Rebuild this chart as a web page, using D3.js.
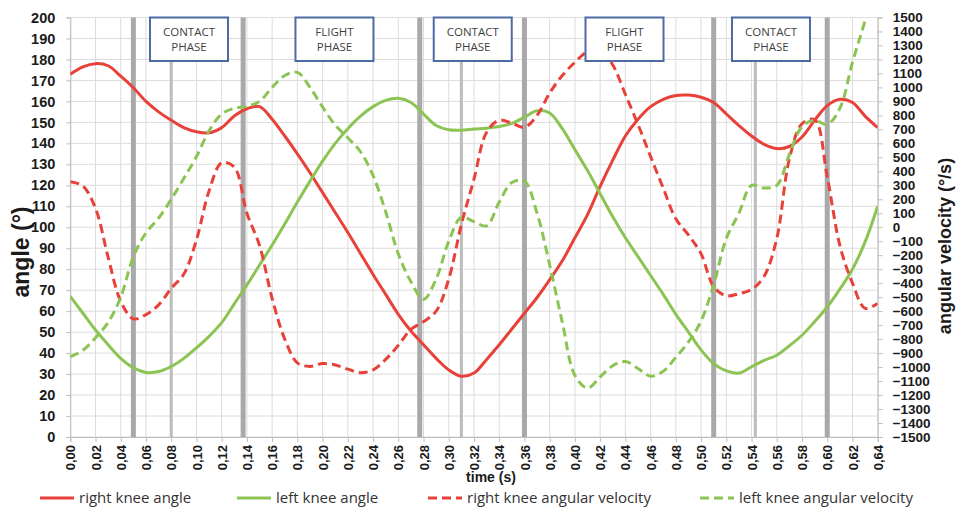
<!DOCTYPE html>
<html><head><meta charset="utf-8">
<script src="https://cdn.jsdelivr.net/npm/d3@7"></script>
<style>body{margin:0;background:#fff} svg{display:block}</style>
</head><body><svg id="c" width="957" height="508"></svg>
<script>
// ---- data ----
const times = [0.00,0.01,0.02,0.03,0.04,0.05,0.06,0.07,0.08,0.09,
0.10,0.11,0.12,0.13,0.14,0.15,0.16,0.17,0.18,0.19,
0.20,0.21,0.22,0.23,0.24,0.25,0.26,0.27,0.28,0.29,
0.30,0.31,0.32,0.33,0.34,0.35,0.36,0.37,0.38,0.39,
0.40,0.41,0.42,0.43,0.44,0.45,0.46,0.47,0.48,0.49,
0.50,0.51,0.52,0.53,0.54,0.55,0.56,0.57,0.58,0.59,
0.60,0.61,0.62,0.63,0.64];
const rightKneeAngle = [173,176.5,178,177,172,166.5,160,155,151,147.5,
145.5,145,147.5,153,156.5,157.5,151.5,143.5,135,126,
116.5,107,97.5,87.5,77.5,68,58.5,50.5,44,37.5,
32,29,30.5,37,44,51.5,59,66.5,75,84,
95,106,119.5,132,143.5,151.5,157.5,161,162.8,163,
162,159.5,154,148.5,143.5,139.5,137.5,138.5,143,151,
158,161,159.5,153,147.5];
const leftKneeAngle = [67,59,51,44,37.5,33,30.8,31.2,33.6,37.5,
42.5,48,54.5,63.5,72.5,82,91.5,101.5,112,122,
131.5,140,147,153,157.5,160.5,161.5,159.5,154,148.5,
146.5,146.3,146.8,147.2,148,149.5,152.5,155.5,154.5,147,
137,127,116,105,95,86,77,68,58.5,50,
41.5,35,31.5,30.5,33.5,36.5,39,43.5,48.5,55,
62,70.5,80,93,110];
const rightKneeVel = [326,295,135,-215,-530,-655,-625,-555,-437,-335,
-90,260,460,430,100,-130,-510,-800,-970,-995,
-975,-985,-1015,-1040,-1020,-945,-845,-730,-675,-600,
-370,20,345,680,765,745,715,800,960,1085,
1180,1256,1270,1160,950,735,505,280,60,-55,
-190,-425,-490,-475,-445,-350,-80,490,740,770,
361,-130,-400,-580,-545];
const leftKneeVel = [-926,-880,-790,-680,-500,-210,-40,65,200,350,
505,690,810,850,865,900,1000,1085,1108,1000,
860,730,640,540,370,110,-190,-390,-515,-370,
-100,70,40,10,180,320,330,100,-270,-680,
-1060,-1150,-1070,-990,-960,-1010,-1065,-1030,-930,-820,
-670,-410,-80,100,300,280,300,520,720,765,
735,850,1180,1480,1850];
const timeTicks = [0.00,0.02,0.04,0.06,0.08,0.10,0.12,0.14,0.16,0.18,0.20,0.22,0.24,0.26,0.28,0.30,0.32,0.34,0.36,0.38,0.40,0.42,0.44,0.46,0.48,0.50,0.52,0.54,0.56,0.58,0.60,0.62,0.64];
const angleTicks = [0,10,20,30,40,50,60,70,80,90,100,110,120,130,140,150,160,170,180,190,200];
const velTicks = [-1500,-1400,-1300,-1200,-1100,-1000,-900,-800,-700,-600,-500,-400,-300,-200,-100,0,100,200,300,400,500,600,700,800,900,1000,1100,1200,1300,1400,1500];
const phaseLinesMajor = [0.05,0.137,0.277,0.36,0.51,0.60];
const phaseLinesMinor = [0.08,0.31,0.543];
const phaseLabels = ["CONTACT|PHASE","FLIGHT|PHASE","CONTACT|PHASE","FLIGHT|PHASE","CONTACT|PHASE"];
const phaseCenters = [0.0941,0.2094,0.319,0.4393,0.5554];
const seriesNames = ["right knee angle","left knee angle","right knee angular velocity","left knee angular velocity"];

// ---- chart ----
const RED = "#e8413a", GREEN = "#8cc453";
const svg = d3.select("#c");
const L = 70.3, R = 877.7, T = 17.5, B = 437;
const x = d3.scaleLinear().domain([0,0.64]).range([L,R]);
const yL = d3.scaleLinear().domain([0,200]).range([B,T]);
const yR = d3.scaleLinear().domain([-1500,1500]).range([B,T]);
const NUM = "'Liberation Sans', Arial, sans-serif";
const TXT = "'Open Sans', 'Noto Sans', sans-serif";

svg.append("defs").append("clipPath").attr("id","clip")
  .append("rect").attr("x",L).attr("y",T).attr("width",R-L).attr("height",B-T);

// grid
const g = svg.append("g");
g.selectAll(".vg").data(timeTicks).join("line")
  .attr("x1",d=>x(d)).attr("x2",d=>x(d)).attr("y1",T).attr("y2",B)
  .attr("stroke","#dcdcdc").attr("stroke-width",1);
g.selectAll(".hg").data(angleTicks).join("line")
  .attr("x1",L).attr("x2",R).attr("y1",d=>yL(d)).attr("y2",d=>yL(d))
  .attr("stroke","#dcdcdc").attr("stroke-width",1);

// phase lines
svg.append("g").selectAll("line").data(phaseLinesMajor).join("line")
  .attr("x1",d=>x(d)).attr("x2",d=>x(d)).attr("y1",T).attr("y2",B)
  .attr("stroke","#a9a9a9").attr("stroke-width",5);
svg.append("g").selectAll("line").data(phaseLinesMinor).join("line")
  .attr("x1",d=>x(d)).attr("x2",d=>x(d)).attr("y1",T).attr("y2",B)
  .attr("stroke","#bcbcbc").attr("stroke-width",3);

// axes
const commaFmt = d3.formatLocale({decimal:",",thousands:".",grouping:[3],currency:["",""]}).format(".2f");
const axL = svg.append("g").attr("transform",`translate(${L},0)`)
  .call(d3.axisLeft(yL).tickValues(angleTicks).tickSize(4).tickPadding(11));
const axR = svg.append("g").attr("transform",`translate(${R},0)`)
  .call(d3.axisRight(yR).tickValues(velTicks).tickSize(5).tickPadding(10).tickFormat(d3.format("d")));
const axB = svg.append("g").attr("transform",`translate(0,${B})`)
  .call(d3.axisBottom(x).tickValues(timeTicks).tickSize(5).tickPadding(3).tickFormat(commaFmt));
[axL,axR,axB].forEach(a=>{
  a.select(".domain").attr("stroke","#bdbdbd");
  a.selectAll(".tick line").attr("stroke","#bdbdbd");
  a.selectAll("text").attr("fill","#1a1a1a").attr("font-family",NUM).attr("font-weight","bold");
});
axL.selectAll("text").attr("font-size","14.5px");
axR.selectAll("text").attr("font-size","13.5px");
axB.selectAll("text").attr("font-size","13px")
  .attr("text-anchor","end").attr("dy","0.35em")
  .attr("transform","rotate(-90)").attr("x",-8).attr("y",0);

// series
const lineL = d3.line().x((d,i)=>x(times[i])).y(d=>yL(d)).curve(d3.curveCatmullRom.alpha(0.5));
const lineR = d3.line().x((d,i)=>x(times[i])).y(d=>yR(d)).curve(d3.curveCatmullRom.alpha(0.5));
const sg = svg.append("g").attr("clip-path","url(#clip)");
sg.append("path").attr("d",lineL(rightKneeAngle)).attr("fill","none").attr("stroke",RED).attr("stroke-width",3);
sg.append("path").attr("d",lineL(leftKneeAngle)).attr("fill","none").attr("stroke",GREEN).attr("stroke-width",3);
sg.append("path").attr("d",lineR(rightKneeVel)).attr("fill","none").attr("stroke",RED).attr("stroke-width",3).attr("stroke-dasharray","9,5");
sg.append("path").attr("d",lineR(leftKneeVel)).attr("fill","none").attr("stroke",GREEN).attr("stroke-width",3).attr("stroke-dasharray","9,5");

// phase boxes
const pb = svg.append("g").selectAll("g").data(phaseLabels).join("g")
  .attr("transform",(d,i)=>`translate(${x(phaseCenters[i])},0)`);
pb.append("rect").attr("x",-39).attr("y",T).attr("width",78).attr("height",43.5)
  .attr("fill","#fff").attr("stroke","#4d6aa3").attr("stroke-width",2);
pb.each(function(d){
  const parts = d.split("|");
  parts.forEach((p,k)=>{
    d3.select(this).append("text").text(p).attr("x",0).attr("y",32+k*15).attr("dy","0.35em")
      .attr("text-anchor","middle").attr("font-family",TXT).attr("font-size","11.5px").attr("fill","#3f3f3f");
  });
});

// axis titles
svg.append("text").text("angle (°)").attr("transform","translate(29,252) rotate(-90)")
  .attr("text-anchor","middle").attr("font-family",NUM).attr("font-weight","bold").attr("font-size","23px").attr("fill","#1a1a1a");
svg.append("text").text("angular velocity (°/s)").attr("transform","translate(951,246) rotate(-90)")
  .attr("text-anchor","middle").attr("font-family",NUM).attr("font-weight","bold").attr("font-size","18px").attr("fill","#1a1a1a");
svg.append("text").text("time (s)").attr("x",491).attr("y",477.5).attr("dy","0.35em")
  .attr("text-anchor","middle").attr("font-family",NUM).attr("font-weight","bold").attr("font-size","14px").attr("fill","#1a1a1a");

// legend
const legX = [40,237,428,700];
const legColors = [RED,GREEN,RED,GREEN];
const legDash = [null,null,"9,5","9,5"];
const lg = svg.append("g").selectAll("g").data(seriesNames).join("g")
  .attr("transform",(d,i)=>`translate(${legX[i]},498)`);
lg.append("line").attr("x1",0).attr("x2",34).attr("y1",0).attr("y2",0)
  .attr("stroke",(d,i)=>legColors[i]).attr("stroke-width",3).attr("stroke-dasharray",(d,i)=>legDash[i]);
lg.append("text").text(d=>d).attr("x",39).attr("y",0).attr("dy","0.35em")
  .attr("font-family",TXT).attr("font-size","15px").attr("fill","#333");
</script></body></html>
